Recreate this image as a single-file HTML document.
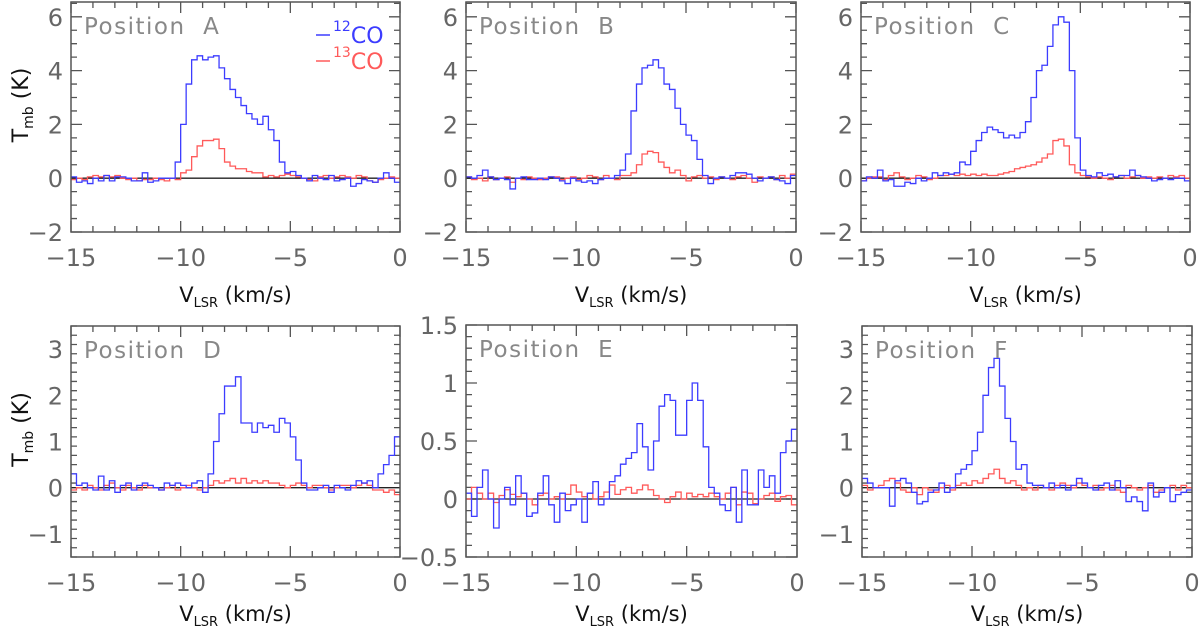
<!DOCTYPE html>
<html><head><meta charset="utf-8"><style>
body{margin:0;background:#fff;}
svg{display:block;}
text{font-family:"DejaVu Sans","Liberation Sans",sans-serif;}
</style></head><body>
<svg id="fig" width="1200" height="631" viewBox="0 0 1200 631" xmlns="http://www.w3.org/2000/svg"></svg>
<script>
const velStart = -15, velStep = 0.25;
const names = ["Position A","Position B","Position C","Position D","Position E","Position F"];
const co12A = [0.05,-0.15,-0.1,-0.2,0,-0.1,0.1,-0.1,0.05,0.05,0,-0.1,-0.1,0.2,-0.15,-0.1,0,0,0,0.6,2.0,3.5,4.4,4.55,4.4,4.5,4.55,4.1,3.7,3.3,3.0,2.7,2.4,2.2,2.0,2.3,1.8,1.4,0.6,0.2,0.25,0.1,0,-0.1,0.1,0,-0.05,0.1,-0.1,-0.05,0,-0.3,-0.2,-0.05,-0.1,-0.15,0,0.2,0,-0.15];
const co13A = [-0.05,0,-0.05,0.05,0.1,0.05,0.1,0.05,0.1,0,-0.05,0,-0.1,-0.05,-0.05,0,-0.05,-0.1,0,-0.05,0.2,0.3,0.8,1.2,1.4,1.4,1.45,1.1,0.6,0.45,0.35,0.35,0.25,0.2,0.2,0.05,0.1,0.05,0.1,0.15,0.1,0.05,0,-0.05,-0.1,0.05,0.1,0,0.05,0.1,0.05,0,0.1,0.05,-0.1,-0.15,-0.05,0,0.05,0];
const co12B = [0.05,0,0.1,0.3,0.05,-0.05,0,-0.05,-0.4,0,0.05,-0.05,-0.05,0,-0.05,0.05,0,-0.1,-0.2,0,-0.1,-0.15,-0.1,-0.2,-0.05,0,0,0.1,0.3,0.9,2.5,3.5,4.1,4.2,4.4,4.1,3.5,3.3,2.6,2.0,1.6,1.4,0.7,0.1,-0.2,0,0.05,0,0.1,0.2,0.2,0.15,0,-0.1,0,0.05,-0.05,-0.1,-0.2,0.1];
const co13B = [0.05,-0.05,0,-0.1,0.05,-0.05,0,0.05,-0.15,0,-0.05,0.05,0,-0.05,0,0.05,0.05,-0.05,0,0.05,-0.05,0,0.1,0.05,-0.05,0.1,0,-0.05,0.1,0.1,0.2,0.5,0.9,1.0,0.95,0.6,0.4,0.2,0.3,0.1,-0.1,0.05,0.1,0,0.05,-0.05,0.05,0,-0.05,0.05,0.1,0,-0.15,0.05,0,0.05,-0.05,0.1,0,0.15];
const co12C = [-0.1,0.05,0,0.3,-0.1,-0.05,-0.3,-0.3,-0.15,-0.2,0,-0.1,0,0.2,0.1,0.2,0.15,0.2,0.6,0.5,1.0,1.4,1.7,1.9,1.8,1.7,1.5,1.6,1.5,1.7,2.1,3.0,4.0,4.2,4.9,5.7,6.0,5.8,4.0,1.5,0.3,0.1,0.05,0.2,0.1,0.15,0.05,0.1,0.1,0.3,0.1,0.05,0,-0.1,-0.05,0,-0.05,0,0,-0.1];
const co13C = [-0.1,0,0.05,0.05,-0.05,0.1,0.2,0.05,-0.05,0,0.1,0.05,-0.05,0,0.1,0.1,0.15,0.1,0.15,0.1,0.15,0.1,0.15,0.1,0.1,0.15,0.2,0.25,0.35,0.4,0.45,0.5,0.6,0.75,0.9,1.4,1.45,1.2,0.5,0.2,0.1,0.05,0,0.05,0,-0.05,0.05,0.1,0,0.05,0.1,0,0.05,0,0.05,0,0.1,0.05,0.1,0];
const co12D = [0.3,0.05,0.1,0,-0.05,0.25,-0.05,0.15,-0.1,0.05,0.1,-0.05,0.05,0.1,0.05,0,-0.05,0.1,0.05,0.1,0.05,0,0.1,0.15,-0.1,0.3,1.0,1.6,2.2,2.2,2.4,1.4,1.4,1.2,1.4,1.3,1.35,1.2,1.5,1.4,1.1,0.6,0.1,-0.05,-0.05,0,0.05,-0.1,0.05,0,-0.05,0.05,0.15,0.1,0.15,0,0.3,0.5,0.7,1.1];
const co13D = [-0.05,0,-0.05,0.05,0,-0.05,0.05,0.1,0,-0.05,0.05,0,-0.05,0.05,0,0,-0.05,0,0.05,-0.05,0,0.05,0,-0.05,0,0.05,0.15,0.1,0.15,0.2,0.1,0.2,0.1,0.15,0.1,0.15,0.1,0.1,0.05,0,0.05,0.1,0.05,0,0.05,0.05,0,-0.05,0,0.05,0.05,0,0.05,0.1,0.05,-0.05,-0.05,-0.1,-0.05,-0.15];
const co12E = [0.05,-0.15,0.1,0.25,0.0,-0.25,0.0,0.1,-0.05,0.2,0.05,-0.15,-0.12,0.05,0.2,-0.05,-0.2,0.05,-0.1,-0.05,0.0,-0.2,0.05,0.15,-0.05,0.0,0.15,0.2,0.3,0.35,0.4,0.65,0.45,0.25,0.5,0.8,0.9,0.85,0.55,0.55,0.85,1.0,0.85,0.45,0.1,0.05,-0.05,-0.1,0.1,-0.2,0.25,-0.05,-0.05,0.25,0.1,0.2,0.05,0.4,0.5,0.6];
const co13E = [0.0,0.1,0.05,0.0,0.05,-0.03,0.03,0.08,0.04,0.02,0.05,0.0,-0.05,0.03,0.05,0.0,0.02,0.0,0.04,0.12,0.06,0.02,0.05,0.0,0.02,0.06,0.12,0.04,0.08,0.1,0.05,0.08,0.12,0.08,0.03,0.0,-0.03,0.02,0.06,0.0,0.05,0.02,0.04,0.02,0.05,0.02,0.0,0.05,0.1,-0.05,0.06,0.05,-0.04,0.0,0.03,0.05,-0.02,0.02,0.03,-0.05];
const co12F = [0.2,0.1,0,0,0,-0.4,0.15,0.2,0.1,-0.1,-0.35,-0.3,-0.1,-0.05,0.1,-0.1,0,0.3,0.4,0.5,0.8,1.2,2.0,2.6,2.8,2.2,1.5,1.0,0.4,0.5,0.1,0.05,0.05,0,0.1,0,0.05,-0.05,0.05,0.2,0.1,0,-0.05,0.05,0.1,-0.05,0.15,0,-0.3,-0.2,-0.3,-0.5,0.1,-0.2,-0.1,0,-0.3,-0.15,-0.1,-0.05];
const co13F = [0.05,-0.05,0,0.05,0.15,0.2,0.1,-0.05,-0.1,0,-0.15,0,-0.05,-0.1,0,0.05,-0.05,0.05,0.1,0.05,0.15,0.1,0.2,0.3,0.4,0.2,0.1,0.15,0.05,-0.05,0,-0.05,0.05,0,-0.05,0.05,0.1,0.05,0,0.1,0.05,0,0.05,-0.05,0,0.05,-0.05,-0.1,0.05,0,-0.05,0,0.05,-0.1,-0.05,0,0.05,-0.05,0.05,0];
const yTicksTop = [-2,0,2,4,6];
const yTicksD = [-1,0,1,2,3];
const yTicksE = [-0.5,0,0.5,1,1.5];
const xTicks = [-15,-10,-5,0];

const panels = [
 {x0:71,x1:400,y0:2,y1:232,ymin:-2,ymax:6.55,minor:0.5,ticks:yTicksTop,b:co12A,r:co13A,ylab:true,legend:true,tOff:70},
 {x0:466,x1:796,y0:2,y1:232,ymin:-2,ymax:6.55,minor:0.5,ticks:yTicksTop,b:co12B,r:co13B,tOff:70},
 {x0:861,x1:1190,y0:2,y1:232,ymin:-2,ymax:6.55,minor:0.5,ticks:yTicksTop,b:co12C,r:co13C,tOff:70},
 {x0:71,x1:400,y0:326,y1:557,ymin:-1.5,ymax:3.5,minor:0.2,ticks:yTicksD,b:co12D,r:co13D,ylab:true,tOff:64},
 {x0:466,x1:797,y0:325,y1:557,ymin:-0.5,ymax:1.5,minor:0.1,ticks:yTicksE,b:co12E,r:co13E,tOff:64},
 {x0:862,x1:1192,y0:326,y1:557,ymin:-1.5,ymax:3.5,minor:0.2,ticks:yTicksD,b:co12F,r:co13F,tOff:64}
];
const NS="http://www.w3.org/2000/svg";
const svg=document.getElementById('fig');
function el(t,a,p){const e=document.createElementNS(NS,t);for(const k in a)e.setAttribute(k,a[k]);(p||svg).appendChild(e);return e;}
function fmt(v){return (v<0?'\u2212':'')+Math.abs(v);}
panels.forEach((P,pi)=>{
  const g=el('g',{});
  
  
  const sx=v=>P.x0+(v+15)/15*(P.x1-P.x0);
  const sy=v=>P.y1-(v-P.ymin)/(P.ymax-P.ymin)*(P.y1-P.y0);
  let d='';
  for(let v=-15;v<=0;v++){const L=(v%5==0)?11:6;const x=sx(v);d+=`M${x},${P.y1}v${-L}M${x},${P.y0}v${L}`;}
  const n=Math.round((P.ymax-P.ymin)/P.minor);
  for(let k=0;k<=n;k++){const v=P.ymin+k*P.minor;const y=sy(v);const maj=P.ticks.some(t=>Math.abs(t-v)<1e-6);const L=maj?11:6;d+=`M${P.x0},${y}h${L}M${P.x1},${y}h${-L}`;}
  const tk=el('path',{d:d,stroke:'#555','stroke-width':1.3,fill:'none'},g);
  
  
  const zl=el('line',{x1:P.x0,x2:P.x1,y1:sy(0),y2:sy(0),stroke:'#222','stroke-width':1.3},g);
  
  
  [[P.r,'#ff5a5a','13co-spectrum'],[P.b,'#3c3cff','12co-spectrum']].forEach(([arr,c,nm])=>{
    let s='';
    arr.forEach((v,i)=>{const xa=sx(velStart+i*velStep),xb=sx(velStart+(i+1)*velStep),y=sy(v);s+=(i==0?'M':'L')+xa+','+y+'L'+xb+','+y;});
    const p=el('path',{d:s,stroke:c,'stroke-width':1.3,fill:'none'},g);
    
    
  });
  const fr=el('rect',{x:P.x0,y:P.y0,width:P.x1-P.x0,height:P.y1-P.y0,fill:'none',stroke:'#555','stroke-width':1.5},g);
  
  
  xTicks.forEach(v=>{const t=el('text',{x:sx(v),y:P.y1+34,'text-anchor':'middle','font-size':24,fill:'#666','font-family':'Liberation Sans, sans-serif'},g);t.textContent=fmt(v);
    
    });
  P.ticks.forEach(v=>{const t=el('text',{x:P.x0-8,y:sy(v)+9,'text-anchor':'end','font-size':24,fill:'#666','font-family':'Liberation Sans, sans-serif'},g);t.textContent=fmt(v);
    
    });
  const xt=el('text',{x:(P.x0+P.x1)/2,y:P.y1+P.tOff,'text-anchor':'middle','font-size':21,fill:'#111'},g);
  xt.innerHTML='V<tspan font-size="13" dy="5">LSR</tspan><tspan dy="-5">  (km/s)</tspan>';
  
  
  const pl=el('text',{x:P.x0+13,y:P.y0+32,'font-size':23,fill:'#888','letter-spacing':'1.5','font-family':'Liberation Sans, sans-serif'},g);
  pl.textContent=names[pi].replace(' ','\u00a0\u00a0');
  
  
  if(P.ylab){
    const cy=(P.y0+P.y1)/2;
    const yt=el('text',{x:0,y:0,'text-anchor':'middle','font-size':22,fill:'#111',transform:`translate(28,${cy-12}) rotate(-90)`},g);
    yt.innerHTML='T<tspan font-size="14" dy="5">mb</tspan><tspan dy="-5">  (K)</tspan>';
    
    
  }
  if(P.legend){
    const lg=el('g',{},g);
    
    
    el('line',{x1:316,x2:330,y1:35,y2:35,stroke:'#3c3cff','stroke-width':1.5},lg);
    el('line',{x1:316,x2:330,y1:61,y2:61,stroke:'#ff5a5a','stroke-width':1.5},lg);
    const a=el('text',{x:333,y:43,'font-size':22,fill:'#3c3cff','font-family':'Liberation Sans, sans-serif'},lg);a.innerHTML='<tspan font-size="14" dy="-12">12</tspan><tspan dy="12">CO</tspan>';
    
    
    const b=el('text',{x:333,y:69,'font-size':22,fill:'#ff5a5a','font-family':'Liberation Sans, sans-serif'},lg);b.innerHTML='<tspan font-size="14" dy="-12">13</tspan><tspan dy="12">CO</tspan>';
    
    
  }
});
</script>
</body></html>
